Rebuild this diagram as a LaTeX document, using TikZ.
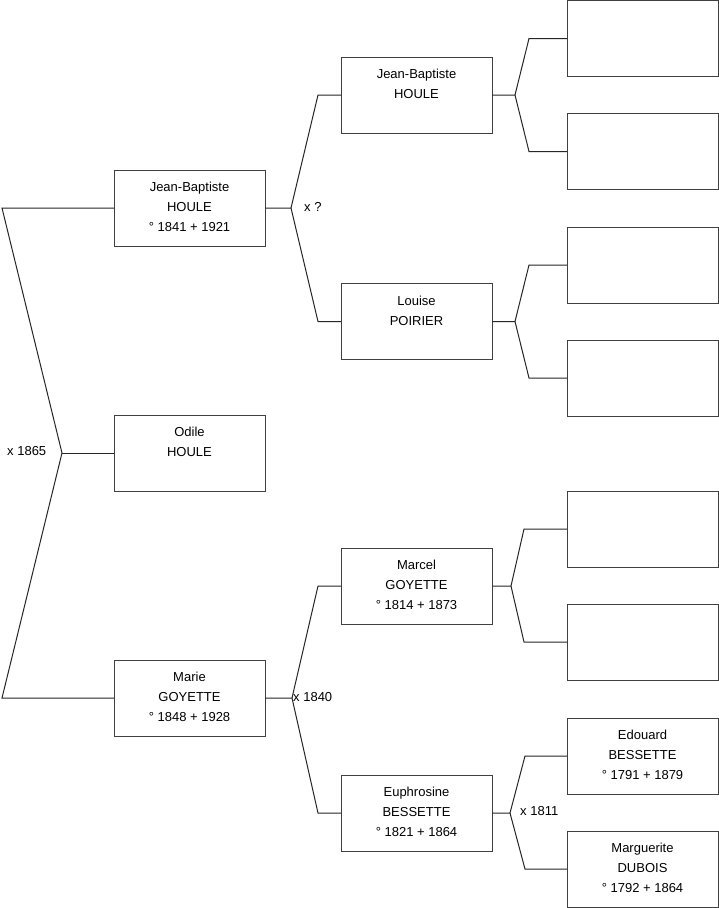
\documentclass[tikz,border=0pt]{standalone}
\usepackage{fontspec}
\setmainfont{Liberation Sans}
\begin{document}
\begin{tikzpicture}[x=1pt,y=-1pt,
  person/.style={draw=black!75,line width=1pt,rectangle,minimum width=151pt,minimum height=76pt,inner sep=0pt,outer sep=0pt,anchor=north west},
  ptext/.style={inner sep=0pt,anchor=north,align=center,font=\fontsize{13}{20}\selectfont},
  mlabel/.style={inner sep=0pt,font=\fontsize{13}{15}\selectfont},
  link/.style={draw=black!85,line width=1pt}]
\useasboundingbox (0,0) rectangle (719,908);
\fill[white] (0,0) rectangle (719,908);
% column 1
\node[person] (p1) at (114,170) {};
\node[person] (p2) at (114,415) {};
\node[person] (p3) at (114,660) {};
% column 2
\node[person] (p4) at (341,57) {};
\node[person] (p5) at (341,283.5) {};
\node[person] (p6) at (341,548) {};
\node[person] (p7) at (341,775) {};
% column 3
\node[person] (q1) at (567,0.5) {};
\node[person] (q2) at (567,113.5) {};
\node[person] (q3) at (567,227) {};
\node[person] (q4) at (567,340) {};
\node[person] (q5) at (567,491) {};
\node[person] (q6) at (567,604) {};
\node[person] (q7) at (567,718) {};
\node[person] (q8) at (567,831) {};
% texts
\node[ptext] (t1) at ([yshift=-12pt]p1.north) {Jean-Baptiste\\HOULE\\° 1841 + 1921};
\node[ptext] (t2) at ([yshift=-12pt]p2.north) {Odile\\HOULE};
\node[ptext] (t3) at ([yshift=-12pt]p3.north) {Marie\\GOYETTE\\° 1848 + 1928};
\node[ptext] (t4) at ([yshift=-12pt]p4.north) {Jean-Baptiste\\HOULE};
\node[ptext] (t5) at ([yshift=-12pt]p5.north) {Louise\\POIRIER};
\node[ptext] (t6) at ([yshift=-12pt]p6.north) {Marcel\\GOYETTE\\° 1814 + 1873};
\node[ptext] (t7) at ([yshift=-12pt]p7.north) {Euphrosine\\BESSETTE\\° 1821 + 1864};
\node[ptext] (t8) at ([yshift=-12pt]q7.north) {Edouard\\BESSETTE\\° 1791 + 1879};
\node[ptext] (t9) at ([yshift=-12pt]q8.north) {Marguerite\\DUBOIS\\° 1792 + 1864};
% root fork
\coordinate (r1) at (2,208);
\coordinate (rv) at (62,453);
\coordinate (r2) at (2,698);
\draw[link] (p1.west) -- (r1) -- (rv) -- (r2) -- (p3.west);
\draw[link] (rv) -- (p2.west);
\node[mlabel,anchor=west] (l0) at (7,451) {x 1865};
% fork of p1
\coordinate (v1) at (291,208);
\coordinate (v1a) at (318,95);
\coordinate (v1b) at (318,321.5);
\draw[link] (p1.east) -- (v1) -- (v1a) -- (p4.west);
\draw[link] (v1) -- (v1b) -- (p5.west);
\node[mlabel,anchor=west] (l1) at (304,207) {x ?};
% fork of p3
\coordinate (v3) at (292,698);
\coordinate (v3a) at (318,586);
\coordinate (v3b) at (318,813);
\draw[link] (p3.east) -- (v3) -- (v3a) -- (p6.west);
\draw[link] (v3) -- (v3b) -- (p7.west);
\node[mlabel,anchor=west] (l3) at (293,697) {x 1840};
% fork of p4
\coordinate (v4) at (515,95);
\coordinate (v4a) at (529,38.5);
\coordinate (v4b) at (529,151.5);
\draw[link] (p4.east) -- (v4) -- (v4a) -- (q1.west);
\draw[link] (v4) -- (v4b) -- (q2.west);
% fork of p5
\coordinate (v5) at (515,321.5);
\coordinate (v5a) at (529,265);
\coordinate (v5b) at (529,378);
\draw[link] (p5.east) -- (v5) -- (v5a) -- (q3.west);
\draw[link] (v5) -- (v5b) -- (q4.west);
% fork of p6
\coordinate (v6) at (511,586);
\coordinate (v6a) at (524,529);
\coordinate (v6b) at (524,642);
\draw[link] (p6.east) -- (v6) -- (v6a) -- (q5.west);
\draw[link] (v6) -- (v6b) -- (q6.west);
% fork of p7
\coordinate (v7) at (510,813);
\coordinate (v7a) at (525,756);
\coordinate (v7b) at (525,869);
\draw[link] (p7.east) -- (v7) -- (v7a) -- (q7.west);
\draw[link] (v7) -- (v7b) -- (q8.west);
\node[mlabel,anchor=west] (l7) at (520,811) {x 1811};
\end{tikzpicture}
\end{document}
